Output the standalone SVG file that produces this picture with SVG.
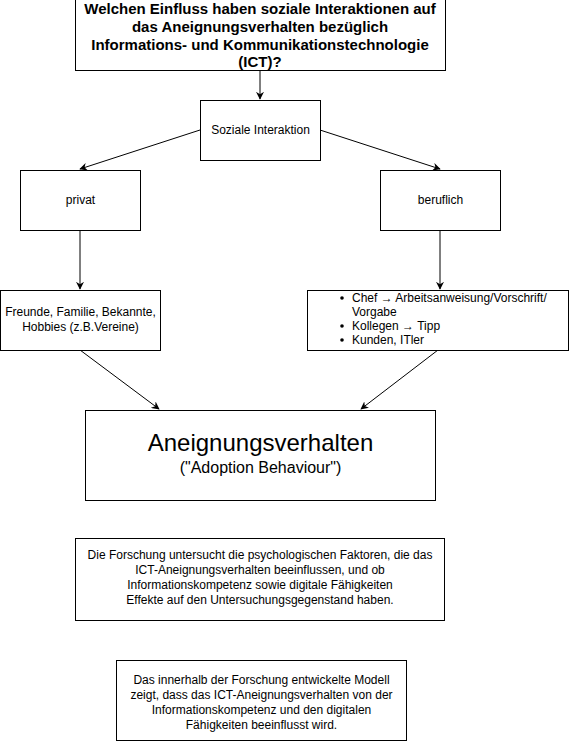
<svg xmlns="http://www.w3.org/2000/svg" width="574" height="741" viewBox="0 0 574 741">
<style>
.box{fill:#fff;stroke:#000;stroke-width:1}
.t{font-family:"Liberation Sans",Arial,sans-serif;font-size:12px;fill:#000;text-anchor:middle}
.tb{font-family:"Liberation Sans",Arial,sans-serif;font-size:15px;font-weight:bold;fill:#000;text-anchor:middle}
.tl{font-family:"Liberation Sans",Arial,sans-serif;font-size:12px;fill:#000}
.c{fill:none;stroke:#000;stroke-width:1}
</style>
<defs>
<marker id="arr" viewBox="0 0 10 10" refX="9" refY="5" markerWidth="8" markerHeight="8" orient="auto" markerUnits="userSpaceOnUse">
<path d="M0,0 L10,5 L0,10 L3,5 Z" fill="#000"/>
</marker>
</defs>
<g id="connectors">
<path class="c" d="M260,71 L260,99" marker-end="url(#arr)"/>
<path class="c" d="M200,130 L80,169" marker-end="url(#arr)"/>
<path class="c" d="M320,130 L440,169" marker-end="url(#arr)"/>
<path class="c" d="M80,230 L80,289" marker-end="url(#arr)"/>
<path class="c" d="M440,230 L440,289" marker-end="url(#arr)"/>
<path class="c" d="M80,350 L159,409" marker-end="url(#arr)"/>
<path class="c" d="M438,350 L361,409" marker-end="url(#arr)"/>
</g>
<g id="question">
<rect class="box" x="75.5" y="-0.5" width="370" height="71"/>
<text class="tb" x="260" y="14">Welchen Einfluss haben soziale Interaktionen auf</text>
<text class="tb" x="260" y="32">das Aneignungsverhalten bezüglich</text>
<text class="tb" x="260" y="50">Informations- und Kommunikationstechnologie</text>
<text class="tb" x="260" y="67">(ICT)?</text>
</g>
<g id="soziale">
<rect class="box" x="200.5" y="100.5" width="120" height="60"/>
<text class="t" x="260.5" y="134">Soziale Interaktion</text>
</g>
<g id="privat">
<rect class="box" x="20.5" y="170.5" width="120" height="60"/>
<text class="t" x="80.5" y="204">privat</text>
</g>
<g id="beruflich">
<rect class="box" x="380.5" y="170.5" width="120" height="60"/>
<text class="t" x="440.5" y="204">beruflich</text>
</g>
<g id="freunde">
<rect class="box" x="0.5" y="290.5" width="160" height="60"/>
<text class="t" x="80.5" y="316">Freunde, Familie, Bekannte,</text>
<text class="t" x="80.5" y="331">Hobbies (z.B.Vereine)</text>
</g>
<g id="berufliste">
<rect class="box" x="307.5" y="290.5" width="261" height="60"/>
<circle cx="342" cy="298" r="1.8" fill="#000"/>
<text class="tl" x="352" y="302">Chef → Arbeitsanweisung/Vorschrift/</text>
<text class="tl" x="352" y="316">Vorgabe</text>
<circle cx="342" cy="326" r="1.8" fill="#000"/>
<text class="tl" x="352" y="330">Kollegen → Tipp</text>
<circle cx="342" cy="340" r="1.8" fill="#000"/>
<text class="tl" x="352" y="344">Kunden, ITler</text>
</g>
<g id="aneignung">
<rect class="box" x="85.5" y="410.5" width="350" height="90"/>
<text class="t" x="260.5" y="451" style="font-size:24px">Aneignungsverhalten</text>
<text class="t" x="260.5" y="473" style="font-size:16px">("Adoption Behaviour")</text>
</g>
<g id="forschung">
<rect class="box" x="75.5" y="538.5" width="369" height="82"/>
<text class="t" x="260" y="559">Die Forschung untersucht die psychologischen Faktoren, die das</text>
<text class="t" x="260" y="574">ICT-Aneignungsverhalten beeinflussen, und ob</text>
<text class="t" x="260" y="589">Informationskompetenz sowie digitale Fähigkeiten</text>
<text class="t" x="260" y="604">Effekte auf den Untersuchungsgegenstand haben.</text>
</g>
<g id="modell">
<rect class="box" x="116.5" y="660.5" width="290" height="80"/>
<text class="t" x="261.5" y="684">Das innerhalb der Forschung entwickelte Modell</text>
<text class="t" x="261.5" y="699">zeigt, dass das ICT-Aneignungsverhalten von der</text>
<text class="t" x="261.5" y="714">Informationskompetenz und den digitalen</text>
<text class="t" x="261.5" y="729">Fähigkeiten beeinflusst wird.</text>
</g>
</svg>
